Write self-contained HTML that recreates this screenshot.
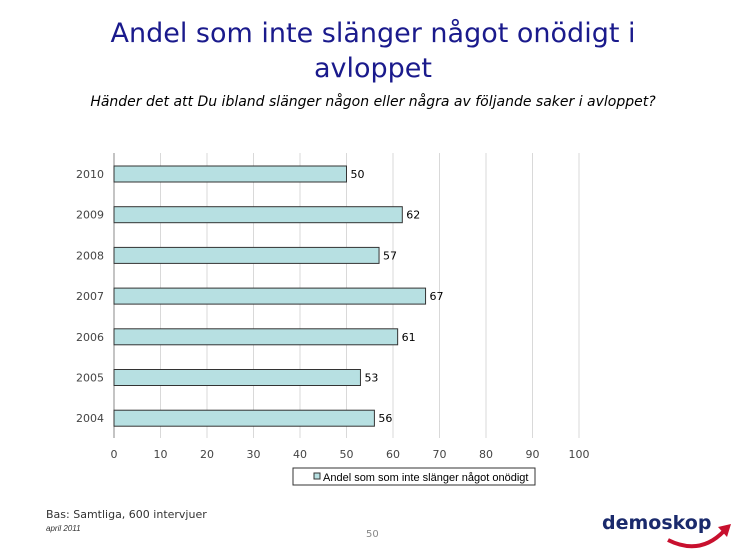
<!DOCTYPE html>
<html><head><meta charset="utf-8"><style>
body{margin:0;width:746px;height:560px;background:#fff;position:relative;overflow:hidden;font-family:"Liberation Sans","DejaVu Sans",sans-serif}
.t{position:absolute;left:0;width:746px;text-align:center;color:#1a1a8c;font-size:27px;line-height:35px;top:16px;font-family:"DejaVu Sans",sans-serif}
.sub{position:absolute;left:0;width:746px;text-align:center;top:94px;font-size:14px;font-style:italic;color:#000;font-family:"DejaVu Sans",sans-serif}
</style></head><body>
<div class="t">Andel som inte slänger något onödigt i<br>avloppet</div>
<div class="sub">Händer det att Du ibland slänger någon eller några av följande saker i avloppet?</div>
<svg id="c" width="746" height="560" style="position:absolute;left:0;top:0"></svg>
<div style="position:absolute;left:46px;top:508px;font-size:11px;color:#333;font-family:'DejaVu Sans',sans-serif">Bas: Samtliga, 600 intervjuer</div>
<div style="position:absolute;left:46px;top:524px;font-size:8px;font-style:italic;color:#333">april 2011</div>
<div style="position:absolute;left:366px;top:529px;font-size:10px;color:#888;font-family:'DejaVu Sans',sans-serif">50</div>
<div style="position:absolute;left:602px;top:512px;font-size:19px;font-weight:bold;color:#1a2a6c;font-family:'DejaVu Sans',sans-serif">demoskop</div>
<svg width="746" height="560" style="position:absolute;left:0;top:0"><path d="M668 540 Q700 556 724 531" stroke="#c8102e" stroke-width="4" fill="none"/><path d="M718 527 L731 524 L727 537 Z" fill="#c8102e"/></svg>
<script>
const categories=["2010","2009","2008","2007","2006","2005","2004"];
const values=[50,62,57,67,61,53,56];
const ticks=[0,10,20,30,40,50,60,70,80,90,100];
const NS="http://www.w3.org/2000/svg",s=document.getElementById("c");
const x=v=>114+v*4.65, y=i=>174+i*40.7;
function el(t,a){const e=document.createElementNS(NS,t);for(const k in a)e.setAttribute(k,a[k]);s.appendChild(e);return e;}
ticks.forEach(t=>{
 if(t>0){const g=el("line",{x1:x(t),x2:x(t),y1:153,y2:438,stroke:"#d9d9d9","stroke-width":1});
 
 }
 const l=el("text",{x:x(t),y:458,"text-anchor":"middle","font-size":"11","fill":"#444","font-family":"DejaVu Sans,sans-serif"});l.textContent=t;
 
 
});
const ax=el("line",{x1:114,x2:114,y1:153,y2:438,stroke:"#888","stroke-width":1});


categories.forEach((c,i)=>{
 const l=el("text",{x:104,y:y(i)+4,"text-anchor":"end","font-size":"11","fill":"#444","font-family":"DejaVu Sans,sans-serif"});l.textContent=c;
 
 
 const b=el("rect",{x:114,y:y(i)-8,width:x(values[i])-114,height:16,fill:"#b7e0e2",stroke:"#333","stroke-width":1});
 
 
 const v=el("text",{x:x(values[i])+4,y:y(i)+4,"font-size":"11","fill":"#000","font-family":"DejaVu Sans,sans-serif"});v.textContent=values[i];
 
 
});
const lg=el("rect",{x:293,y:468,width:242,height:17,fill:"#fff",stroke:"#333","stroke-width":1});


const ls=el("rect",{x:314,y:473,width:6,height:6,fill:"#b7e0e2",stroke:"#333","stroke-width":1});


const lt=el("text",{x:323,y:481,"font-size":"11","fill":"#000"});lt.textContent="Andel som som inte slänger något onödigt";


</script>
</body></html>
